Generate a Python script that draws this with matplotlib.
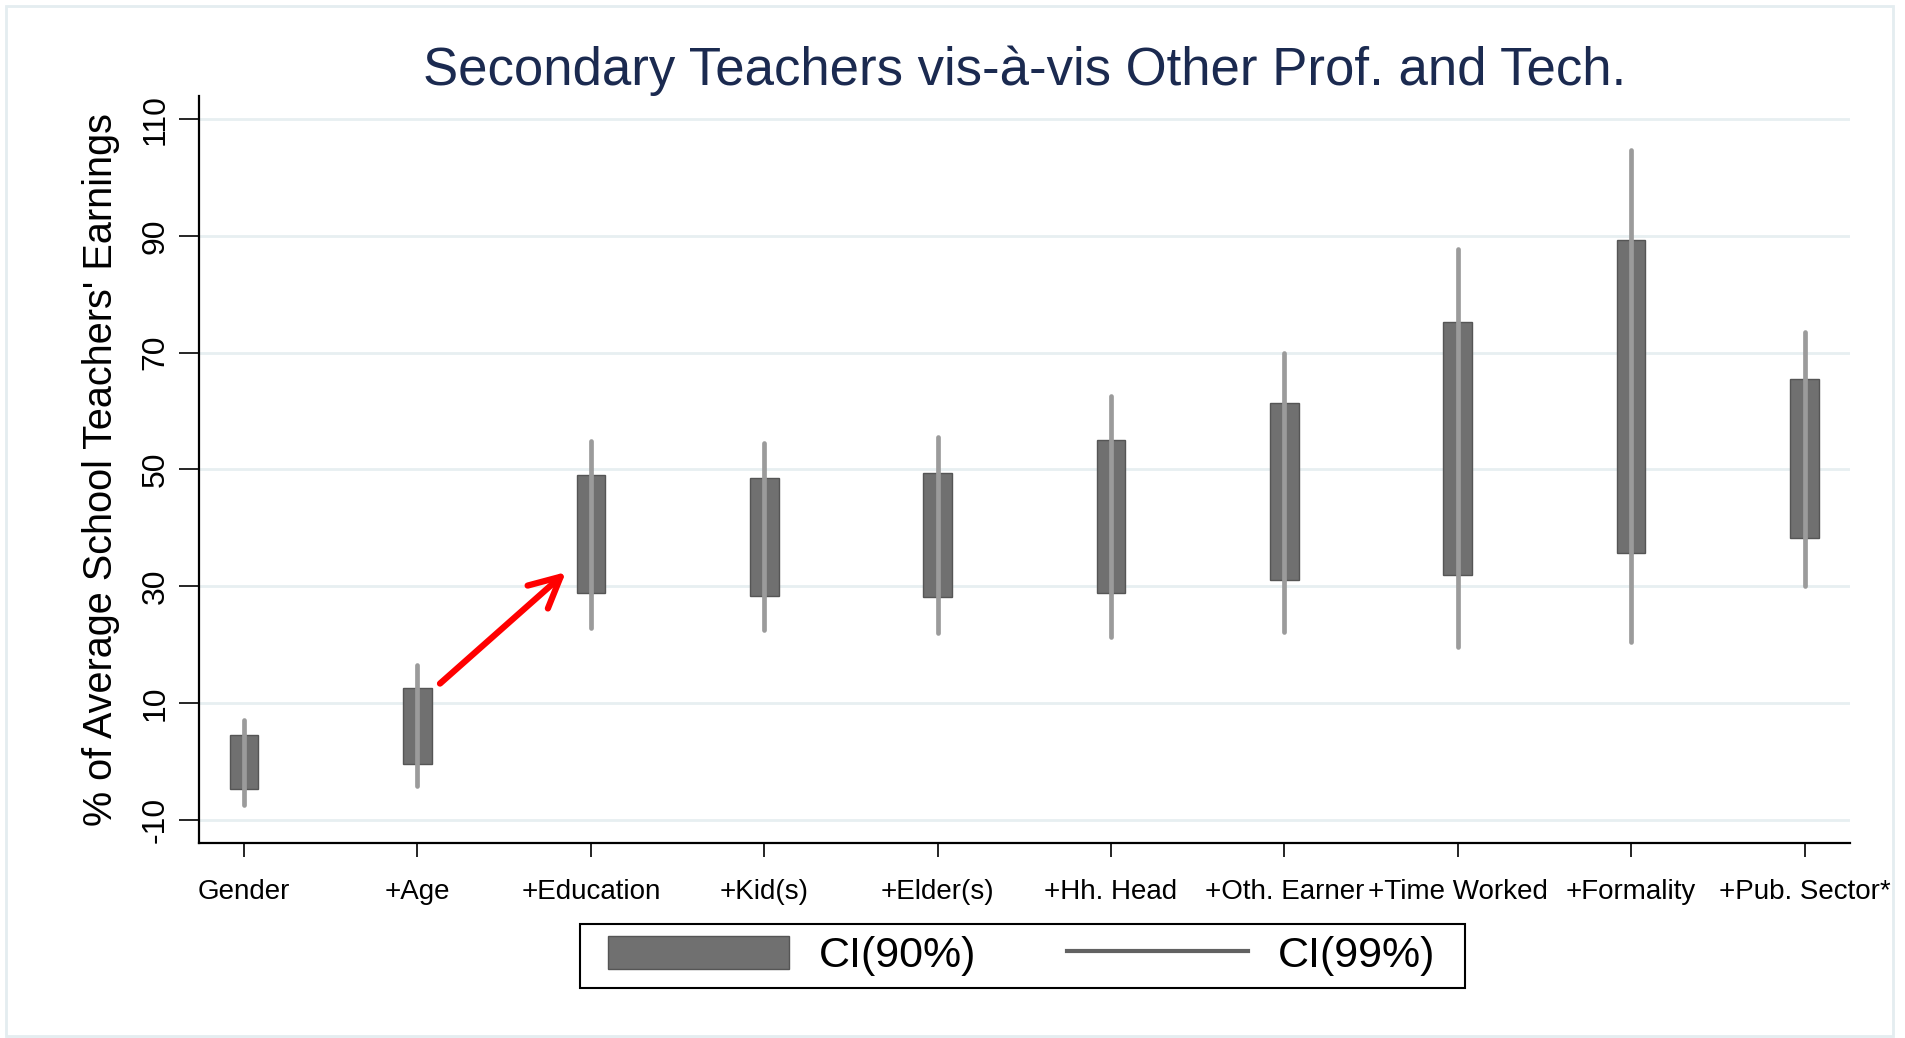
import matplotlib
matplotlib.use('Agg')
import matplotlib.pyplot as plt
from matplotlib.patches import Patch, Rectangle
from matplotlib.lines import Line2D

plt.rcParams['font.family'] = ['Liberation Sans', 'DejaVu Sans']
plt.rcParams['axes.unicode_minus'] = False

categories = ['Gender', '+Age', '+Education', '+Kid(s)', '+Elder(s)', '+Hh. Head',
              '+Oth. Earner', '+Time Worked', '+Formality', '+Pub. Sector*']
# 90% CI (box) and 99% CI (line)
lo90 = [-4.7, -0.4, 28.8, 28.3, 28.1, 28.8, 31.0, 31.9, 35.6, 38.2]
hi90 = [4.5, 12.6, 49.1, 48.5, 49.4, 55.1, 61.4, 75.3, 89.3, 65.5]
lo99 = [-7.5, -4.3, 22.8, 22.4, 22.0, 21.2, 22.1, 19.5, 20.4, 30.1]
hi99 = [7.1, 16.5, 54.9, 54.5, 55.6, 62.6, 69.9, 87.8, 104.7, 73.5]
yticks = [-10, 10, 30, 50, 70, 90, 110]

fig = plt.figure(figsize=(19.06, 10.38), dpi=100)
ax = fig.add_axes([0.1044, 0.188, 0.866, 0.7195])

x = list(range(len(categories)))
heights = [h - l for h, l in zip(hi90, lo90)]
ax.bar(x, heights, bottom=lo90, width=0.165, color='#707070', edgecolor='#555555',
       linewidth=1, zorder=2)
vl = ax.vlines(x, lo99, hi99, color='#9b9b9b', linewidth=3.4, zorder=3)
vl.set_capstyle('round')

ax.set_xlim(-0.26, 9.26)
ax.set_ylim(-14, 114)
ax.set_yticks(yticks)
ax.set_xticks(x)
ax.set_xticklabels(categories)
for yv in yticks:
    ax.axhline(yv, color='#e7eff1', linewidth=2, zorder=0)

for s in ['top', 'right']:
    ax.spines[s].set_visible(False)
for s in ['left', 'bottom']:
    ax.spines[s].set_linewidth(1.6)
ax.tick_params(axis='x', length=10, width=1.2, pad=16, labelsize=20)
ax.tick_params(axis='y', length=14.4, width=1.2, pad=6, labelsize=23, labelrotation=90)
for lab in ax.get_yticklabels():
    lab.set_va('center')

ax.set_ylabel("% of Average School Teachers' Earnings", fontsize=28.5, labelpad=15)
ax.set_title('Secondary Teachers vis-à-vis Other Prof. and Tech.', fontsize=38,
             color='#1b2a50', pad=8)

ax.annotate('', xy=(1.856, 32.4), xytext=(1.13, 13.3),
            arrowprops=dict(arrowstyle='->, head_length=2.2, head_width=1.1',
                            color='red', lw=4.5, shrinkA=0, shrinkB=0))

handles = [Patch(facecolor='#707070', edgecolor='#555555'),
           Line2D([], [], color='#626262', linewidth=3)]
leg = fig.legend(handles, ['CI(90%)', 'CI(99%)'], loc='center',
                 bbox_to_anchor=(0.536, 0.079), ncol=2, fontsize=31,
                 frameon=False, handlelength=4.2, handleheight=0.8,
                 handletextpad=0.7, columnspacing=2.1, borderpad=0.22,
                 borderaxespad=0)
# legend box, a bit wider than the entries like the original
fig.patches.append(Rectangle((0.3043, 0.0482), 0.4643, 0.0616, transform=fig.transFigure,
                             fill=False, edgecolor='black', linewidth=1.5))

fig.patches.append(Rectangle((0.003, 0.002), 0.990, 0.992, transform=fig.transFigure,
                             fill=False, edgecolor='#e4edf0', linewidth=2))

fig.savefig('out.png', dpi=100)
